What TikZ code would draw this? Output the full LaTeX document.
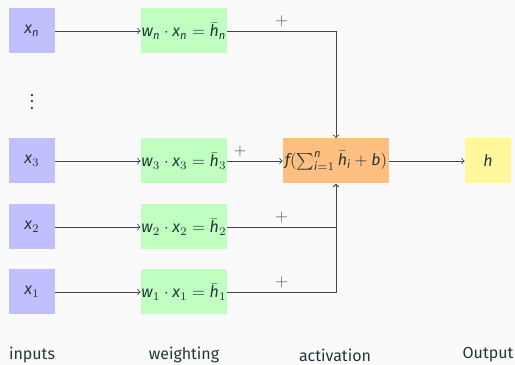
\documentclass[tikz,border=0pt]{standalone}
\usepackage{fontspec}
\setsansfont{Fira Sans}
\renewcommand{\familydefault}{\sfdefault}
\DeclareSymbolFont{operators}{TU}{\sfdefault}{m}{n}
\DeclareSymbolFont{letters}{TU}{\sfdefault}{m}{it}
\renewcommand{\bar}{\mathaccent"70AF\relax}
\definecolor{bgc}{HTML}{FAFAFA}
\definecolor{textc}{HTML}{23373B}
\definecolor{linec}{HTML}{3A4A4F}
\definecolor{inc}{HTML}{C0C0FF}
\definecolor{wc}{HTML}{C0FFC0}
\definecolor{fc}{HTML}{FFBF80}
\definecolor{hc}{HTML}{FFF799}
\tikzset{
  every node/.style={font=\fontsize{9.6}{11.5}\selectfont},
  box/.style={inner sep=0pt, minimum height=27pt, text=textc},
  inbox/.style={box, fill=inc, minimum width=27.6pt},
  wbox/.style={box, fill=wc, minimum width=51.6pt},
  fbox/.style={box, fill=fc, minimum width=63.6pt},
  hbox/.style={box, fill=hc, minimum width=27.6pt},
  conn/.style={draw=linec, line width=0.5pt, ->},
  plus/.style={text=textc!80, above, inner sep=2pt},
  lab/.style={text=textc}
}
\begin{document}
\begin{tikzpicture}[x=0.6pt,y=-0.6pt]
\fill[bgc] (0,0) rectangle (515,365);
\useasboundingbox (0,0) rectangle (515,365);
\node[inbox] (xn) at (32,31) {$x_n$};
\node[lab] (dots) at (32,97) {$\vdots$};
\node[inbox] (x3) at (32,161) {$x_3$};
\node[inbox] (x2) at (32,227) {$x_2$};
\node[inbox] (x1) at (32,292) {$x_1$};
\node[wbox] (wn) at (184,31) {$w_n\cdot x_n=\bar{h}_n$};
\node[wbox] (w3) at (184,161) {$w_3\cdot x_3=\bar{h}_3$};
\node[wbox] (w2) at (184,227) {$w_2\cdot x_2=\bar{h}_2$};
\node[wbox] (w1) at (184,292) {$w_1\cdot x_1=\bar{h}_1$};
\node[fbox] (f) at (336,161) {$f(\sum_{i=1}^n \bar{h}_i+b)$};
\node[hbox] (h) at (488,161) {$h$};
\draw[conn] (xn) -- (wn);
\draw[conn] (x3) -- (w3);
\draw[conn] (x2) -- (w2);
\draw[conn] (x1) -- (w1);
\draw[conn] (wn) -| node[plus, pos=0.25] (pn) {$+$} (f);
\draw[conn] (w3) -- node[plus, pos=0.23] (p3) {$+$} (f);
\draw[conn] (w2) -| node[plus, pos=0.25] (p2) {$+$} (f);
\draw[conn] (w1) -| node[plus, pos=0.25] (p1) {$+$} (f);
\draw[conn] (f) -- (h);
\node[lab] (l1) at (32,355) {inputs};
\node[lab] (l2) at (184,355) {weighting};
\node[lab] (l3) at (335,355) {activation};
\node[lab] (l4) at (488,355) {Output};
\end{tikzpicture}
\end{document}
